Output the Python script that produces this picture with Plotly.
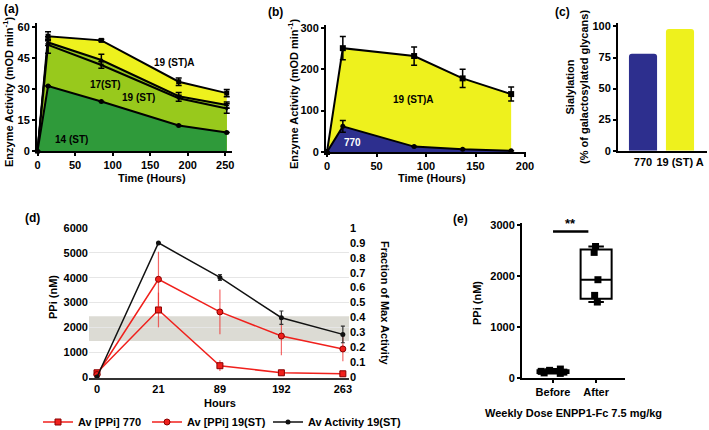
import plotly.graph_objects as go

W, H = 709, 430
FONT = "Liberation Sans, Arial, sans-serif"


def fx(p):
    return p / W


def fy(p):
    return 1 - p / H


# (a) enzyme activity, four constructs
hrs_a = [0, 14, 85, 188, 252]
st19a_a = [0, 55.5, 53.5, 33.5, 28]
st19a_a_err = [None, 2.2, 0.6, 1.8, 1.8]
st17_a = [0, 52.5, 44, 26.5, 22.2]
st17_a_err = [None, 1.5, 2.8, 1.8, 1.5]
st19_a = [0, 51.3, 41.6, 25.5, 20.6]
st19_a_err = [None, 4, 1.6, 1.5, 2.3]
st14_a = [0, 31.4, 23.9, 12.3, 9.0]

# (b) enzyme activity, 19 (ST)A vs 770
hrs_b = [0, 16, 88, 137, 186]
st19a_b = [0, 251, 232, 178, 140]
st19a_b_err = [None, 28, 22, 22, 17]
e770_b = [0, 62, 13, 6.5, 3]
e770_b_err = [None, 14, None, None, None]

# (c) sialylation
glyco = ["770", "19 (ST) A"]
sial = [78, 98]

# (d) PPi and activity
hours_d = ["0", "21", "89", "192", "263"]
ppi_770 = [170, 2700, 455, 170, 130]
ppi_770_err = [None, 700, 215, None, None]
ppi_19 = [100, 3935, 2620, 1650, 1130]
ppi_19_err = [None, 1110, 900, 770, 500]
act_19 = [0, 0.90, 0.668, 0.398, 0.286]
act_19_err = [None, None, 0.02, 0.045, 0.056]
band_lo, band_hi = 1450, 2450

# (e) weekly dose
before_ppi = [175, 150, 130, 115, 100, 90]
after_ppi = [2576, 2459, 1924, 1617, 1487]
sig_level = 2870

YEL = "#eef11d"
LGR = "#98c91c"
DGR = "#2f9a3a"
BLU = "#2d2f8e"
RED = "#f0201c"

fig = go.Figure()

# ---- (a)
def line_a(y, err, fill, name, sym):
    return go.Scatter(x=hrs_a, y=y, mode="lines+markers", fill="tozeroy", fillcolor=fill,
                      line=dict(color="black", width=2), marker=dict(color="black", size=5, symbol=sym),
                      error_y=dict(type="data", array=err, color="black", thickness=1.5, width=3),
                      name=name, showlegend=False, xaxis="x", yaxis="y", cliponaxis=False)

fig.add_trace(line_a(st19a_a, st19a_a_err, YEL, "19 (ST)A", "square"))
fig.add_trace(line_a(st17_a, st17_a_err, LGR, "17(ST)", "triangle-up"))
fig.add_trace(line_a(st19_a, st19_a_err, LGR, "19 (ST)", "triangle-down"))
fig.add_trace(line_a(st14_a, [None] * 5, DGR, "14 (ST)", "circle"))

# ---- (b)
fig.add_trace(go.Scatter(x=hrs_b, y=st19a_b, mode="lines+markers", fill="tozeroy", fillcolor=YEL,
                         line=dict(color="black", width=2), marker=dict(color="black", size=6, symbol="square"),
                         error_y=dict(type="data", array=st19a_b_err, color="black", thickness=1.5, width=3),
                         showlegend=False, xaxis="x2", yaxis="y2", cliponaxis=False))
fig.add_trace(go.Scatter(x=hrs_b, y=e770_b, mode="lines+markers", fill="tozeroy", fillcolor=BLU,
                         line=dict(color="black", width=2), marker=dict(color="black", size=5),
                         error_y=dict(type="data", array=e770_b_err, color="black", thickness=1.5, width=3),
                         showlegend=False, xaxis="x2", yaxis="y2", cliponaxis=False))

# ---- (c)
fig.add_trace(go.Bar(x=glyco, y=sial, marker=dict(color=[BLU, YEL], cornerradius=3, line=dict(width=0)),
                     width=0.76, showlegend=False, xaxis="x3", yaxis="y3"))

# ---- (d)
fig.add_trace(go.Scatter(x=hours_d, y=ppi_770, mode="lines+markers", name="Av [PPi] 770", legendwidth=64,
                         line=dict(color=RED, width=1.5),
                         marker=dict(symbol="square", size=6, color=RED, line=dict(color="#8a0000", width=1)),
                         error_y=dict(type="data", array=ppi_770_err, color="rgba(240,40,40,0.7)", thickness=1.2, width=0),
                         xaxis="x4", yaxis="y4", cliponaxis=False))
fig.add_trace(go.Scatter(x=hours_d, y=ppi_19, mode="lines+markers", name="Av [PPi] 19(ST)", legendwidth=76,
                         line=dict(color=RED, width=1.5),
                         marker=dict(symbol="circle", size=6, color=RED, line=dict(color="#8a0000", width=1)),
                         error_y=dict(type="data", array=ppi_19_err, color="rgba(240,40,40,0.7)", thickness=1.2, width=0),
                         xaxis="x4", yaxis="y4", cliponaxis=False))
fig.add_trace(go.Scatter(x=hours_d, y=act_19, mode="lines+markers", name="Av Activity 19(ST)", legendwidth=105,
                         line=dict(color="#111111", width=1.5),
                         marker=dict(symbol="circle", size=5, color="#111111"),
                         error_y=dict(type="data", array=act_19_err, color="#333333", thickness=1.2, width=2),
                         xaxis="x4", yaxis="y5", cliponaxis=False))

# ---- (e)
box_style = dict(line=dict(color="black", width=2), fillcolor="rgba(0,0,0,0)",
                 marker=dict(symbol="square", size=7, color="black"),
                 boxpoints="all", pointpos=0, whiskerwidth=0.5, width=0.72,
                 quartilemethod="exclusive", showlegend=False, xaxis="x6", yaxis="y6")
fig.add_trace(go.Box(x=["Before"] * len(before_ppi), y=before_ppi, jitter=0.9, **box_style))
fig.add_trace(go.Box(x=["After"] * len(after_ppi), y=after_ppi, jitter=0.15, **box_style))

tickf = dict(family=FONT, size=11, color="black", weight="bold")
ax = dict(showline=True, linecolor="black", linewidth=2, ticks="outside", ticklen=3, tickwidth=2,
          tickcolor="black", showgrid=False, zeroline=False, tickfont=tickf, fixedrange=True, automargin=False)

fig.update_layout(
    width=W, height=H, autosize=False,
    margin=dict(l=0, r=0, t=0, b=0, autoexpand=False),
    paper_bgcolor="white", plot_bgcolor="rgba(0,0,0,0)",
    font=dict(family=FONT, color="black"),
    xaxis=dict(ax, domain=[fx(37), fx(232)], range=[-0.7, 259], tickvals=[0, 50, 100, 150, 200, 250], anchor="y"),
    yaxis=dict(ax, domain=[fy(151), fy(23)], range=[0, 61.9], tickvals=[0, 15, 30, 45, 60], anchor="x"),
    xaxis2=dict(ax, domain=[fx(326), fx(526)], range=[-1, 201], tickvals=[0, 50, 100, 150, 200], anchor="y2"),
    yaxis2=dict(ax, domain=[fy(152), fy(25)], range=[0, 307], tickvals=[0, 100, 200, 300], anchor="x2"),
    xaxis3=dict(ax, domain=[fx(618), fx(707)], type="category", range=[-0.676, 1.73], ticks="", anchor="y3"),
    yaxis3=dict(ax, domain=[fy(150.7), fy(22.7)], range=[0, 103], tickvals=[0, 25, 50, 75, 100], anchor="x3"),
    xaxis4=dict(domain=[fx(89), fx(349)], type="category", range=[-0.13, 4.1], showline=True, linecolor="#333333",
                linewidth=1.5, ticks="", showgrid=False, zeroline=False, tickfont=tickf, anchor="y4",
                fixedrange=True, automargin=False),
    yaxis4=dict(domain=[fy(378), fy(228)], range=[-40, 6000], tickvals=[0, 1000, 2000, 3000, 4000, 5000, 6000],
                showline=False, showgrid=True, gridcolor="#e6e6e6", gridwidth=1, zeroline=False, ticks="",
                tickfont=tickf, anchor="x4", fixedrange=True, automargin=False),
    yaxis5=dict(overlaying="y4", side="right", anchor="x4", range=[-40 / 6000, 1],
                tickvals=[i / 10 for i in range(11)], ticktext=["0"] + [f"0.{i}" for i in range(1, 10)] + ["1"],
                showline=False, showgrid=False, zeroline=False, ticks="", tickfont=tickf,
                fixedrange=True, automargin=False),
    xaxis6=dict(ax, domain=[fx(522), fx(625)], type="category", categoryorder="array",
                categoryarray=["Before", "After"], range=[-0.72, 1.67], anchor="y6"),
    yaxis6=dict(ax, domain=[fy(378), fy(222.7)], range=[0, 3040], tickvals=[0, 1000, 2000, 3000], anchor="x6"),
    legend=dict(orientation="h", x=fx(38), y=fy(422), xanchor="left", yanchor="middle",
                font=dict(family=FONT, size=11, color="black", weight="bold"),
                bgcolor="rgba(0,0,0,0)", itemwidth=30, tracegroupgap=0),
)

# grey target band in (d) and significance bar in (e)
fig.add_shape(type="rect", xref="x4 domain", yref="y4", x0=0, x1=1, y0=band_lo, y1=band_hi,
              fillcolor="#dcdbd4", line=dict(width=0), layer="below")
fig.add_shape(type="line", xref="x6", yref="y6", x0=0, x1=0.82, y0=sig_level, y1=sig_level,
              line=dict(color="black", width=2.5))

B = dict(family=FONT, color="black", weight="bold")


def note(text, x, y, size=11, angle=0, xref="paper", yref="paper", color="black"):
    fig.add_annotation(text=text, x=x, y=y, xref=xref, yref=yref, showarrow=False, textangle=angle,
                       font=dict(B, size=size, color=color), xanchor="center", yanchor="middle")


# panel labels
note("(a)", fx(11), fy(9), 12)
note("(b)", fx(275), fy(12), 12)
note("(c)", fx(562), fy(12), 12)
note("(d)", fx(32), fy(218), 12)
note("(e)", fx(460), fy(219), 12)

# axis titles
note("Enzyme Activity (mOD min<sup>-1</sup>)", fx(8), fy(92), 11, -90)
note("Time (Hours)", fx(152), fy(178), 11)
note("Enzyme Activity (mOD min<sup>-1</sup>)", fx(293), fy(94), 11, -90)
note("Time (Hours)", fx(432), fy(178), 11)
note("Sialylation<br>(% of galactosylated glycans)", fx(577), fy(87), 11, -90)
note("PPi (nM)", fx(53), fy(297), 11, -90)
note("Hours", fx(220), fy(403), 11)
note("Fraction of Max Activity", fx(385), fy(303), 11, 90)
note("PPi (nM)", fx(477), fy(303), 11, -90)
note("Weekly Dose ENPP1-Fc 7.5 mg/kg", fx(573), fy(413), 11)
note("**", fx(570), fy(223), 13)

# labels inside areas
note("19 (ST)A", 183, 43, 10, xref="x", yref="y")
note("17(ST)", 91, 32.4, 10, xref="x", yref="y")
note("19 (ST)", 135, 26, 10, xref="x", yref="y")
note("14 (ST)", 45, 5.8, 10, xref="x", yref="y")
note("19 (ST)A", 87, 126, 10, xref="x2", yref="y2")
note("770", 26, 24, 10, xref="x2", yref="y2", color="white")

# the page body has a default 8px margin; drop it so the figure sits at the window corner
fig.write_html("out.html", config={"displayModeBar": False},
               post_script="document.body.style.margin='0';")
